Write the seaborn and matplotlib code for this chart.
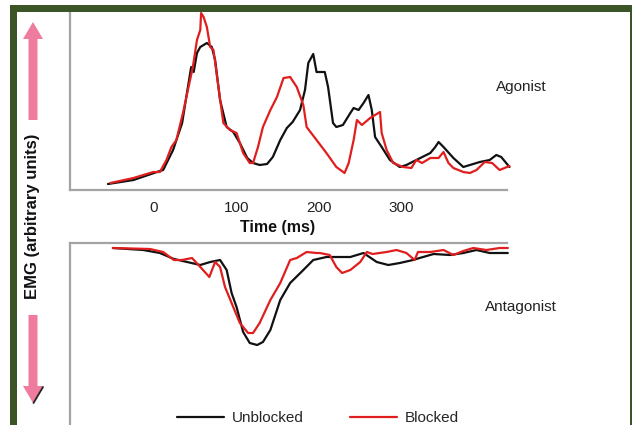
import matplotlib
matplotlib.use("Agg")
import matplotlib.pyplot as plt
import seaborn as sns
import pandas as pd
from matplotlib.patches import Rectangle, FancyArrow

# ---------------- data (arbitrary EMG units, time in ms) ----------------
agon_unblocked_t = [-56, -25, 7, 11, 23, 34, 41, 45, 48, 52, 56, 64, 70, 74, 80, 88, 96, 104, 113, 120,
                    128, 137, 144, 153, 161, 168, 177, 183, 187, 193, 197, 207, 211, 217, 221, 229, 238,
                    242, 248, 254, 260, 264, 268, 276, 286, 298, 306, 318, 335, 341, 345, 351, 363, 375,
                    383, 395, 407, 415, 421, 431]
agon_unblocked_v = [6, 10, 19, 20, 40, 67, 103, 123, 118, 137, 143, 147, 143, 130, 90, 63, 58, 47, 32, 27,
                    25, 26, 33, 50, 62, 68, 80, 100, 127, 136, 118, 118, 103, 67, 63, 65, 77,
                    82, 80, 87, 95, 80, 53, 43, 30, 23, 25, 30, 37, 43, 48, 43, 32, 23,
                    25, 28, 30, 35, 33, 23]

agon_blocked_t = [-53, -25, -1, 7, 15, 21, 27, 35, 41, 47, 52, 56, 57, 60, 64, 68, 72, 78, 84, 92, 100,
                  108, 116, 120, 126, 132, 141, 149, 157, 165, 173, 181, 185, 197, 209, 221, 231, 236,
                  242, 246, 252, 262, 272, 274, 276, 282, 290, 302, 312, 318, 325, 335, 345, 351, 357,
                  363, 375, 383, 391, 401, 410, 419, 425, 431]
agon_blocked_v = [7, 12, 18, 18, 30, 43, 50, 77, 100, 123, 150, 160, 177, 173, 163, 143, 140, 103, 67, 60, 57,
                  37, 27, 27, 43, 63, 80, 93, 112, 113, 103, 85, 63, 50, 37, 23, 17, 27,
                  50, 70, 65, 72, 77, 78, 57, 40, 27, 23, 22, 30, 27, 32, 32, 38, 27,
                  22, 18, 17, 20, 28, 27, 20, 22, 24]

antag_unblocked_t = [-50, -13, 7, 24, 40, 56, 68, 80, 88, 94, 100, 108, 116, 125, 132, 141, 153, 165, 181,
                     193, 209, 238, 254, 270, 284, 298, 314, 322, 339, 359, 375, 391, 407, 429]
antag_unblocked_v = [-5, -7, -10, -16, -19, -22, -19, -17, -27, -50, -64, -89, -100, -102, -99, -87, -57, -40, -27,
                     -17, -14, -14, -10, -19, -22, -20, -17, -15, -11, -12, -10, -7, -10, -10]

antag_blocked_t = [-50, -5, 11, 24, 34, 46, 56, 67, 74, 80, 86, 96, 104, 114, 120, 128, 141, 153, 165, 173,
                   185, 197, 201, 213, 221, 228, 238, 250, 258, 265, 282, 294, 306, 316, 320, 335, 351,
                   363, 375, 387, 403, 419, 429]
antag_blocked_v = [-5, -6, -9, -17, -17, -15, -24, -34, -19, -24, -44, -64, -80, -90, -90, -80, -57, -40, -17, -15,
                   -9, -10, -10, -12, -24, -30, -27, -19, -9, -11, -9, -7, -10, -17, -9, -9, -7,
                   -12, -8, -5, -7, -5, -5]

x_ticks = [0, 100, 200, 300]
conditions = ["Unblocked", "Blocked"]
palette = {"Unblocked": "#111111", "Blocked": "#e01e1e"}

# ---------------- build tables ----------------
agon = pd.concat([
    pd.DataFrame({"t": agon_unblocked_t, "v": agon_unblocked_v, "cond": "Unblocked"}),
    pd.DataFrame({"t": agon_blocked_t, "v": agon_blocked_v, "cond": "Blocked"}),
])
antag = pd.concat([
    pd.DataFrame({"t": antag_unblocked_t, "v": antag_unblocked_v, "cond": "Unblocked"}),
    pd.DataFrame({"t": antag_blocked_t, "v": antag_blocked_v, "cond": "Blocked"}),
])

sns.set_theme(style="white")
plt.rcParams["font.family"] = ["Liberation Sans", "DejaVu Sans"]

W, H = 632, 425
fig = plt.figure(figsize=(W / 100, H / 100), dpi=100)
fig.patch.set_facecolor("white")

def rect(l, t, r, b):
    return [l / W, 1 - b / H, (r - l) / W, (b - t) / H]

spine_col = "#a3a3a3"
xlim = (-102, 428)

# Agonist axes
ax1 = fig.add_axes(rect(70, 11, 507, 190))
sns.lineplot(data=agon, x="t", y="v", hue="cond", hue_order=conditions, palette=palette,
             sort=False, estimator=None, linewidth=1.6, ax=ax1, legend=False)
ax1.set_xlim(*xlim)
ax1.set_ylim(0, 179)
ax1.set_yticks([])
ax1.set_xticks(x_ticks)
ax1.set_xticklabels([str(v) for v in x_ticks], fontsize=11, color="#222222")
ax1.tick_params(axis="x", length=0, pad=8)
ax1.set_ylabel("")
ax1.set_xlabel("Time (ms)", fontsize=11.5, fontweight="bold", color="#111111")
ax1.xaxis.set_label_coords((278 - 70) / 437, -0.165)
for s in ["top", "right"]:
    ax1.spines[s].set_visible(False)
for s in ["left", "bottom"]:
    ax1.spines[s].set_color(spine_col)
    ax1.spines[s].set_linewidth(1.6)
for ln in ax1.lines:
    ln.set_clip_on(False)
fig.text(496 / W, 1 - 87 / H, "Agonist", fontsize=11, color="#222222", va="center", ha="left")

# Antagonist axes
ax2 = fig.add_axes(rect(70, 243, 507, 425))
sns.lineplot(data=antag, x="t", y="v", hue="cond", hue_order=conditions, palette=palette,
             sort=False, estimator=None, linewidth=1.6, ax=ax2)
ax2.set_xlim(*xlim)
ax2.set_ylim(-182, 0)
ax2.set_xticks([])
ax2.set_yticks([])
ax2.set_xlabel("")
ax2.set_ylabel("")
for s in ["bottom", "right"]:
    ax2.spines[s].set_visible(False)
for s in ["left", "top"]:
    ax2.spines[s].set_color(spine_col)
    ax2.spines[s].set_linewidth(1.6)
for ln in ax2.lines:
    ln.set_clip_on(False)
fig.text(485 / W, 1 - 307 / H, "Antagonist", fontsize=11, color="#222222", va="center", ha="left")

handles, labels = ax2.get_legend_handles_labels()
ax2.get_legend().remove()
for h in handles:
    h.set_linewidth(1.6)
fig.legend(handles, labels, loc="center", bbox_to_anchor=(318 / W, 1 - 418 / H), ncol=2,
           frameon=False, fontsize=11, handlelength=3.1, handletextpad=0.5, columnspacing=3.0,
           borderaxespad=0, borderpad=0)

# y label
fig.text(33 / W, 1 - 216 / H, "EMG (arbitrary units)", rotation=90, fontsize=12,
         fontweight="bold", color="#111111", ha="center", va="center")

# overlay for frame and arrows (pixel coordinates)
ov = fig.add_axes([0, 0, 1, 1], zorder=5)
ov.set_xlim(0, W)
ov.set_ylim(H, 0)
ov.axis("off")
ov.patch.set_visible(False)
green = "#3b5428"
ov.add_patch(Rectangle((10, 5), 7, H - 5, color=green, lw=0))
ov.add_patch(Rectangle((10, 5), W - 10, 6.5, color=green, lw=0))
ov.add_patch(Rectangle((629.5, 5), 3, H - 5, color=green, lw=0))

pink = "#ef7c9e"
ov.add_patch(FancyArrow(33, 120, 0, -98, width=9, head_width=20, head_length=17,
                        length_includes_head=True, color=pink, lw=0))
ov.add_patch(FancyArrow(33, 315, 0, 88, width=9, head_width=20, head_length=17,
                        length_includes_head=True, color=pink, lw=0))
ov.plot([33.5, 43], [403, 387], color="#222222", lw=1.3, solid_capstyle="round")

fig.savefig("out.png", dpi=100)
